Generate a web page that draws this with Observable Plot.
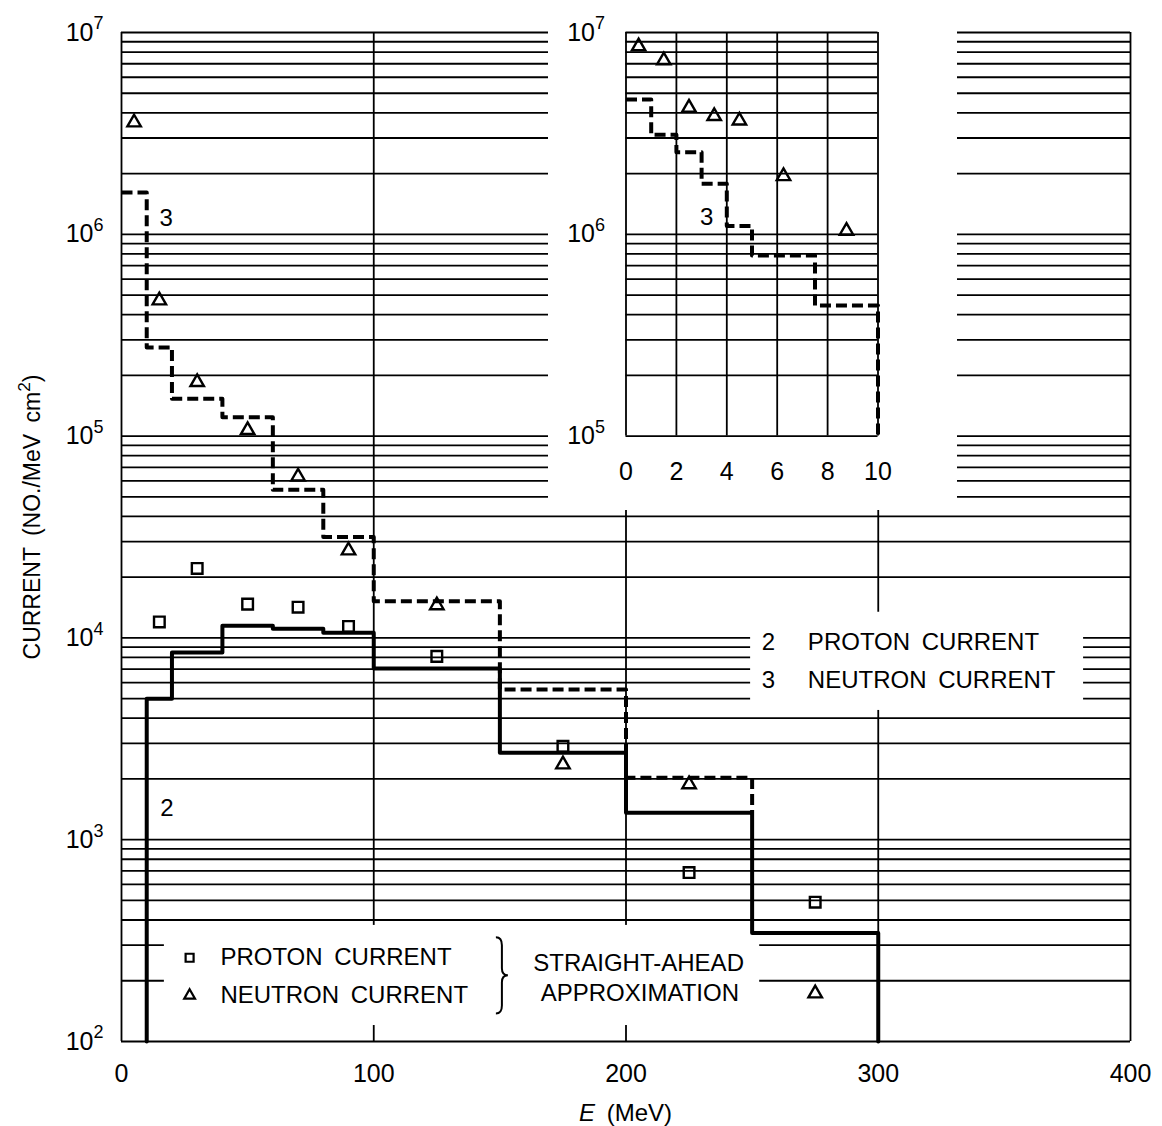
<!DOCTYPE html>
<html><head><meta charset="utf-8">
<script src="https://cdn.jsdelivr.net/npm/d3@7"></script>
<script src="https://cdn.jsdelivr.net/npm/@observablehq/plot@0.6"></script>
<style>
html,body{margin:0;padding:0;background:#fff;}
#wrap{position:relative;width:1162px;height:1126px;overflow:hidden;}
#wrap svg{position:absolute;}
</style></head><body><div id="wrap"></div>
<script>
// ---------- data ----------
const protonEdges = [10, 20, 40, 60, 80, 100, 150, 200, 250, 300];
const protonStep = [5.0e3, 8.47e3, 1.15e4, 1.11e4, 1.06e4, 7.05e3, 2.70e3, 1.36e3, 345];
const neutronEdges = [0, 10, 20, 40, 60, 80, 100, 150, 200, 250];
const neutronStep = [1.61e6, 2.75e5, 1.53e5, 1.24e5, 5.42e4, 3.16e4, 1.52e4, 5.55e3, 2.03e3];
const protonPointE = [15, 30, 50, 70, 90, 125, 175, 225, 275];
const protonPoints = [1.2e4, 2.21e4, 1.47e4, 1.42e4, 1.14e4, 8.1e3, 2.9e3, 687, 490];
const neutronPointE = [5, 15, 30, 50, 70, 90, 125, 175, 225, 275];
const neutronPoints = [3.58e6, 4.70e5, 1.85e5, 1.07e5, 6.3e4, 2.71e4, 1.45e4, 2.36e3, 1.88e3, 173];
const insetEdges = [0, 1, 2, 3, 4, 5, 7.5, 10];
const insetStep = [4.66e6, 3.11e6, 2.55e6, 1.78e6, 1.10e6, 7.85e5, 4.44e5];
const insetPointE = [0.5, 1.5, 2.5, 3.5, 4.5, 6.25, 8.75];
const insetPoints = [8.53e6, 7.27e6, 4.24e6, 3.85e6, 3.66e6, 1.94e6, 1.04e6];
const xTicksMain = [0, 100, 200, 300, 400];
const xTicksInset = [0, 2, 4, 6, 8, 10];
const yTicksMain = [1e2, 1e3, 1e4, 1e5, 1e6, 1e7];
const yTicksInset = [1e5, 1e6, 1e7];
const yDomainMain = [1e2, 1e7];
const yDomainInset = [1e5, 1e7];
const yLabel = "CURRENT (NO./MeV cm";
const xLabelVar = "E";
const xLabelUnit = " (MeV)";
const legendRight = ["PROTON CURRENT", "NEUTRON CURRENT"];
const legendBottom = ["PROTON CURRENT", "NEUTRON CURRENT", "STRAIGHT-AHEAD", "APPROXIMATION"];

// ---------- helpers ----------
const FONT = '"Liberation Sans", Arial, Helvetica, sans-serif';
function logGrid(lo, hi) {
  const out = [];
  for (let k = Math.round(Math.log10(lo)); k < Math.round(Math.log10(hi)); k++)
    for (let m = 1; m <= 9; m++) out.push(m * Math.pow(10, k));
  out.push(hi);
  return out;
}
function stepPath(edges, vals, endValue) {
  const pts = edges.slice(0, vals.length).map((E, i) => ({E, v: vals[i]}));
  pts.push({E: edges[vals.length], v: endValue});
  return pts;
}
const pow = d => "10^" + Math.round(Math.log10(d));
function superscriptTicks(svg) {
  d3.select(svg).selectAll("text").each(function () {
    const t = d3.select(this);
    const m = /^10\^(\d+)$/.exec(t.text());
    if (!m) return;
    t.text(null);
    t.append("tspan").text("10");
    t.append("tspan").attr("dy", "-0.62em").attr("font-size", "0.72em").text(m[1]);
  });
}

const protonPath = [{E: protonEdges[0], v: yDomainMain[0]}]
  .concat(stepPath(protonEdges, protonStep, yDomainMain[0]));
const neutronPath = stepPath(neutronEdges, neutronStep, protonStep[protonEdges.indexOf(200)]);
const insetPath = stepPath(insetEdges, insetStep, yDomainInset[0]);
const protonPts = protonPointE.map((E, i) => ({E, v: protonPoints[i]}));
const neutronPts = neutronPointE.map((E, i) => ({E, v: neutronPoints[i]}));
const insetPts = insetPointE.map((E, i) => ({E, v: insetPoints[i]}));

const GRID = {stroke: "black", strokeWidth: 1.8};
const STEP = {x: "E", y: "v", curve: "step-after", stroke: "black", strokeWidth: 4};
const TXT = {fontSize: 24, fill: "black"};

// ---------- main chart ----------
const main = Plot.plot({
  width: 1162, height: 1126,
  marginLeft: 121, marginRight: 32, marginTop: 32, marginBottom: 85,
  x: {domain: [0, 400]},
  y: {type: "log", domain: yDomainMain},
  style: {fontFamily: FONT, fontSize: "24px", background: "white", color: "black", wordSpacing: "5px"},
  marks: [
    Plot.ruleY(logGrid(1e2, 1e7), GRID),
    Plot.ruleX(xTicksMain, GRID),
    // white backdrops behind the two legends
    Plot.rect([{x1: 249.4, x2: 381.4, y1: 4.37e3, y2: 1.34e4}], {x1: "x1", x2: "x2", y1: "y1", y2: "y2", fill: "white"}),
    Plot.rect([{x1: 17, x2: 253, y1: 120, y2: 376}], {x1: "x1", x2: "x2", y1: "y1", y2: "y2", fill: "white"}),
    Plot.line(protonPath, STEP),
    Plot.line(neutronPath, {...STEP, strokeDasharray: "11,5", strokeLinecap: "butt"}),
    Plot.dot(protonPts, {x: "E", y: "v", symbol: "square", r: 6, stroke: "black", strokeWidth: 2.4, fill: "none"}),
    Plot.dot(neutronPts, {x: "E", y: "v", symbol: "triangle", r: 5, stroke: "black", strokeWidth: 2.4, fill: "none"}),
    // curve labels
    Plot.text(["3"], {x: [17.7], y: [1.2e6], ...TXT}),
    Plot.text(["2"], {x: [18], y: [1.43e3], ...TXT}),
    // right legend
    Plot.text(["2", "3"], {x: [256.5, 256.5], y: [9.5e3, 6.15e3], ...TXT}),
    Plot.text(legendRight, {x: [272.1, 272.1], y: [9.5e3, 6.15e3], textAnchor: "start", ...TXT}),
    // bottom legend
    Plot.dot([{E: 27, v: 260}], {x: "E", y: "v", symbol: "square", r: 4.5, stroke: "black", strokeWidth: 2.2, fill: "none"}),
    Plot.dot([{E: 27, v: 169}], {x: "E", y: "v", symbol: "triangle", r: 4, stroke: "black", strokeWidth: 2.2, fill: "none"}),
    Plot.text(legendBottom.slice(0, 2), {x: [39.2, 39.2], y: [260, 169], textAnchor: "start", ...TXT}),
    Plot.text(legendBottom.slice(2), {x: [205, 205.5], y: [243.6, 173], ...TXT}),
    Plot.axisX(xTicksMain, {tickSize: 0, tickPadding: 23, fontSize: 25, label: null}),
    Plot.axisY(yTicksMain, {tickSize: 0, tickPadding: 18, fontSize: 25, tickFormat: pow, label: null})
  ]
});
main.style.left = "0px"; main.style.top = "0px";
superscriptTicks(main);
{
  const sv = d3.select(main);
  const xs = main.scale("x"), ys = main.scale("y");
  // brace
  const bx = xs.apply(151), bt = ys.apply(327), bb = ys.apply(137), bm = (bt + bb) / 2;
  sv.append("path")
    .attr("d", `M${bx-6},${bt} Q${bx},${bt} ${bx},${bt+8} L${bx},${bm-7} Q${bx},${bm} ${bx+6},${bm} Q${bx},${bm} ${bx},${bm+7} L${bx},${bb-8} Q${bx},${bb} ${bx-6},${bb}`)
    .attr("fill", "none").attr("stroke", "black").attr("stroke-width", 2);
  // y label
  const yl = sv.append("text").attr("transform", "translate(40,517) rotate(-90)")
    .attr("text-anchor", "middle").attr("font-size", 23).attr("fill", "black");
  yl.append("tspan").text(yLabel);
  yl.append("tspan").attr("dy", "-0.6em").attr("font-size", "0.75em").text("2");
  yl.append("tspan").attr("dy", "0.45em").text(")");
  // x label
  const xl = sv.append("text").attr("x", (xs.apply(0) + xs.apply(400)) / 2).attr("y", 1121)
    .attr("text-anchor", "middle").attr("font-size", 24).attr("fill", "black");
  xl.append("tspan").attr("font-style", "italic").text(xLabelVar);
  xl.append("tspan").text(xLabelUnit);
}

// ---------- inset ----------
const inset = Plot.plot({
  width: 409, height: 510,
  marginLeft: 77.5, marginRight: 79.5, marginTop: 32, marginBottom: 74.4,
  x: {domain: [0, 10]},
  y: {type: "log", domain: yDomainInset},
  style: {fontFamily: FONT, fontSize: "24px", background: "white", color: "black"},
  marks: [
    Plot.ruleY(logGrid(1e5, 1e7), GRID),
    Plot.ruleX(xTicksInset, GRID),
    Plot.line(insetPath, {...STEP, strokeDasharray: "11,5", strokeLinecap: "butt"}),
    Plot.dot(insetPts, {x: "E", y: "v", symbol: "triangle", r: 5, stroke: "black", strokeWidth: 2.4, fill: "none"}),
    Plot.text(["3"], {x: [3.2], y: [1.22e6], ...TXT}),
    Plot.axisX(xTicksInset, {tickSize: 0, tickPadding: 26, fontSize: 25, label: null}),
    Plot.axisY(yTicksInset, {tickSize: 0, tickPadding: 21, fontSize: 25, tickFormat: pow, label: null})
  ]
});
inset.style.left = "548px"; inset.style.top = "0px";
superscriptTicks(inset);

const wrap = document.getElementById("wrap");
wrap.appendChild(main);
wrap.appendChild(inset);
</script></body></html>
